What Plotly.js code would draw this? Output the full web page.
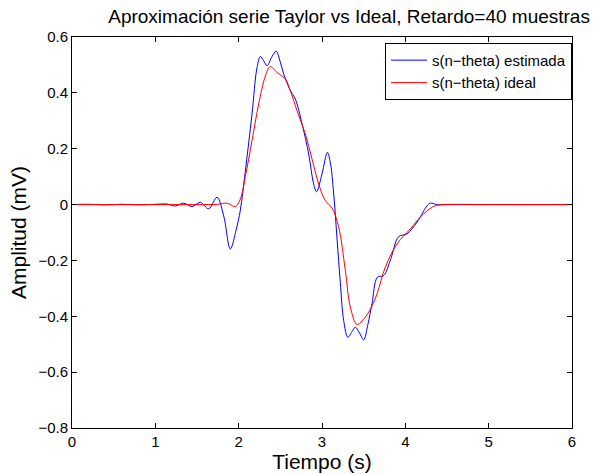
<!DOCTYPE html>
<html>
<head>
<meta charset="utf-8">
<script src="https://cdn.plot.ly/plotly-3.0.1.min.js"></script>
<style>html,body{margin:0;padding:0;background:#fff;}</style>
</head>
<body>
<div id="chart" style="width:605px;height:474px;"></div>
<script>
const estX = [0, 0.2, 0.4, 0.6, 0.8, 1.0, 1.14, 1.24, 1.34, 1.44, 1.54, 1.64, 1.74, 1.82, 1.90, 1.97, 2.02, 2.08, 2.16, 2.22, 2.26, 2.30, 2.34, 2.40, 2.45, 2.50, 2.54, 2.62, 2.68, 2.76, 2.84, 2.90, 2.935, 3.00, 3.065, 3.10, 3.14, 3.18, 3.22, 3.26, 3.31, 3.36, 3.40, 3.45, 3.50, 3.55, 3.60, 3.665, 3.74, 3.82, 3.92, 4.02, 4.14, 4.28, 4.32, 4.38, 4.5, 5, 5.5, 6];
const estY = [0, 0.001, -0.001, 0.001, -0.001, 0.001, 0.002, -0.005, 0.005, -0.007, 0.008, -0.015, 0.026, -0.04, -0.159, -0.09, -0.02, 0.12, 0.324, 0.49, 0.53, 0.515, 0.497, 0.53, 0.549, 0.51, 0.468, 0.408, 0.378, 0.29, 0.181, 0.074, 0.046, 0.11, 0.187, 0.15, 0.04, -0.12, -0.28, -0.415, -0.475, -0.455, -0.439, -0.46, -0.484, -0.43, -0.355, -0.26, -0.254, -0.2, -0.115, -0.105, -0.063, 0.002, 0.005, -0.001, 0, 0, 0, 0];
const idealX = [0, 1.0, 1.5, 1.75, 1.86, 1.96, 2.02, 2.08, 2.16, 2.24, 2.32, 2.38, 2.46, 2.56, 2.62, 2.70, 2.80, 2.88, 2.96, 3.04, 3.12, 3.20, 3.28, 3.34, 3.42, 3.50, 3.58, 3.66, 3.76, 3.90, 4.06, 4.22, 4.36, 4.48, 5, 6];
const idealY = [0, 0, 0, 0.001, 0.005, -0.007, 0.02, 0.1, 0.229, 0.36, 0.46, 0.494, 0.473, 0.45, 0.408, 0.336, 0.253, 0.163, 0.074, 0.014, -0.012, -0.08, -0.236, -0.367, -0.429, -0.41, -0.375, -0.32, -0.224, -0.141, -0.087, -0.033, -0.004, 0, 0, 0];
const xTicks = [0, 1, 2, 3, 4, 5, 6];
const yTicks = [-0.8, -0.6, -0.4, -0.2, 0, 0.2, 0.4, 0.6];
const yTickText = ['\u22120.8', '\u22120.6', '\u22120.4', '\u22120.2', '0', '0.2', '0.4', '0.6'];

const font = 'Liberation Sans, Arial, sans-serif';
const traces = [
  {x: estX, y: estY, type: 'scatter', mode: 'lines', name: 's(n\u2212theta) estimada',
   line: {color: '#0000ff', width: 1, shape: 'spline', smoothing: 1}},
  {x: idealX, y: idealY, type: 'scatter', mode: 'lines', name: 's(n\u2212theta) ideal',
   line: {color: '#ff0000', width: 1, shape: 'spline', smoothing: 1}}
];
const axisCommon = {
  showgrid: false, zeroline: false, showline: true, mirror: 'ticks',
  linecolor: '#000', linewidth: 1, ticks: 'inside', ticklen: 5, tickcolor: '#000',
  tickfont: {family: font, size: 15, color: '#000'}
};
const layout = {
  width: 605, height: 474,
  margin: {l: 72, r: 33, t: 37, b: 46},
  paper_bgcolor: '#fff', plot_bgcolor: '#fff',
  font: {family: font, color: '#000'},
  title: {text: 'Aproximación serie Taylor vs Ideal, Retardo=40 muestras',
          font: {family: font, size: 19, color: '#000'}, x: 0.577, xanchor: 'center', y: 0.966, yanchor: 'middle'},
  xaxis: Object.assign({}, axisCommon, {range: [0, 6], tickvals: xTicks, ticktext: xTicks.map(String),
          title: {text: 'Tiempo (s)', font: {family: font, size: 21, color: '#000'}, standoff: 0}}),
  yaxis: Object.assign({}, axisCommon, {range: [-0.8, 0.6], tickvals: yTicks, ticktext: yTickText,
          title: {text: 'Amplitud (mV)', font: {family: font, size: 21, color: '#000'}, standoff: 6}}),
  showlegend: true,
  legend: {x: 1, xanchor: 'right', y: 0.985, yanchor: 'top', bgcolor: '#fff', bordercolor: '#000', borderwidth: 1,
           font: {family: font, size: 15, color: '#000'}, tracegroupgap: 0, itemwidth: 36}
};
Plotly.newPlot('chart', traces, layout, {displayModeBar: false, staticPlot: true});
</script>
</body>
</html>
